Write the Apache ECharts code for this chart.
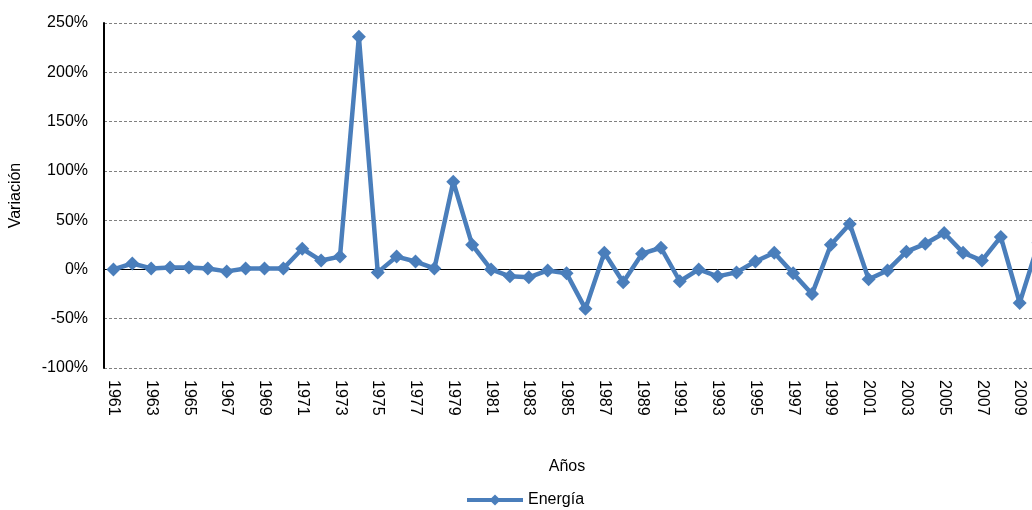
<!DOCTYPE html>
<html>
<head>
    <meta charset="utf-8">
    <title>Energía</title>
    <script src="https://cdn.jsdelivr.net/npm/echarts@6/dist/echarts.min.js"></script>
</head>
<body style="margin:0;">
    <div id="main" style="width:1032px;height:510px;"></div>
    <script type="text/javascript">
// años 1961..2010
var years = ['1961','1962','1963','1964','1965','1966','1967','1968','1969','1970',
             '1971','1972','1973','1974','1975','1976','1977','1978','1979','1980',
             '1981','1982','1983','1984','1985','1986','1987','1988','1989','1990',
             '1991','1992','1993','1994','1995','1996','1997','1998','1999','2000',
             '2001','2002','2003','2004','2005','2006','2007','2008','2009','2010'];
// variación en %
var energia = [0, 6, 1, 2, 2, 1, -2, 1, 1, 1,
               21, 9, 13, 236, -3, 13, 8, 1, 89, 25,
               0, -7, -8, -1, -4, -40, 17, -13, 16, 22,
               -12, 0, -7, -3, 8, 17, -4, -25, 25, 46,
               -10, -1, 18, 26, 37, 17, 9, 33, -34, 27];
var yTicks = {min: -100, max: 250, step: 50};

var myChart = echarts.init(document.getElementById('main'));
var txt = {fontFamily: 'Liberation Sans', fontSize: 16, color: '#000'};

option = {
    animation: false,
    textStyle: {fontFamily: 'Liberation Sans'},
    // plot runs past the right edge, like the original (2010 is cut)
    grid: {left: 104, width: 944, top: 23, height: 345, containLabel: false, outerBoundsMode: 'none'},
    xAxis: {
        type: 'category',
        data: years,
        boundaryGap: true,
        name: 'Años',
        nameLocation: 'middle',
        nameGap: 91,
        nameTextStyle: Object.assign({padding: [0, 18, 0, 0]}, txt),
        axisLine: {onZero: false, show: false},
        axisTick: {show: false},
        axisLabel: Object.assign({interval: 1, rotate: -90, margin: 12}, txt),
        splitLine: {show: false}
    },
    yAxis: {
        type: 'value',
        min: yTicks.min,
        max: yTicks.max,
        interval: yTicks.step,
        name: 'Variación',
        nameLocation: 'middle',
        nameGap: 80,
        nameTextStyle: txt,
        axisLine: {show: true, lineStyle: {color: '#000', width: 2}},
        axisTick: {show: false},
        axisLabel: Object.assign({formatter: '{value}%', margin: 16}, txt),
        splitLine: {show: true, lineStyle: {color: '#808080', type: [3, 2], width: 1}}
    },
    legend: {
        top: 487,
        left: 460,
        itemWidth: 56,
        itemHeight: 14,
        itemGap: 4,
        textStyle: txt,
        lineStyle: {width: 4},
        data: ['Energía']
    },
    series: [{
        name: 'Energía',
        type: 'line',
        data: energia,
        symbol: 'diamond',
        symbolSize: 14,
        showAllSymbol: true,
        itemStyle: {color: '#4a7ebb'},
        lineStyle: {color: '#4a7ebb', width: 4.5},
        z: 3,
        markLine: {
            silent: true,
            symbol: 'none',
            label: {show: false},
            lineStyle: {color: '#000', type: 'solid', width: 1},
            z: 1,
            data: [{yAxis: 0}]
        }
    }]
};

if (option && typeof option === "object") {
    myChart.setOption(option);
}
    </script>
</body>
</html>
